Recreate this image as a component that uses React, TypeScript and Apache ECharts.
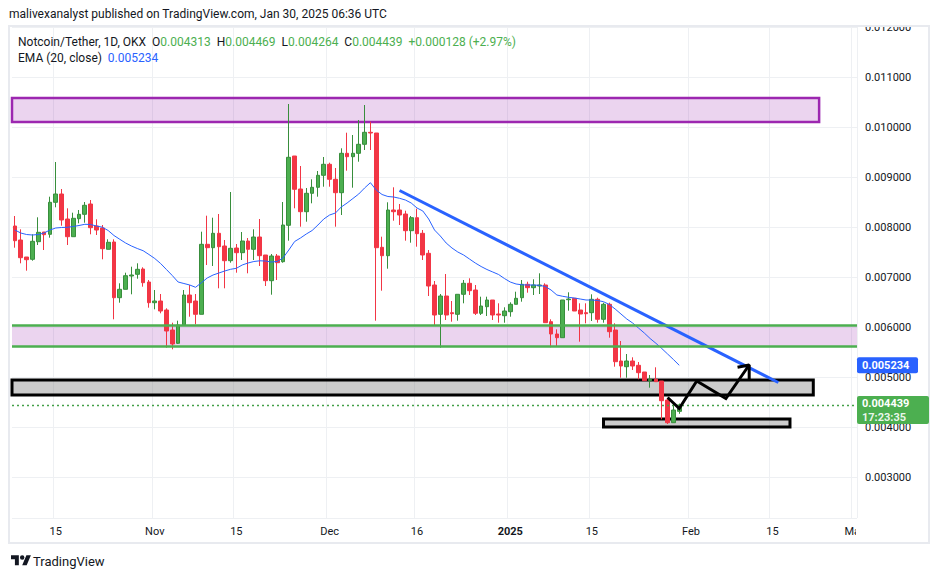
import React, { useEffect, useRef } from "react";
import * as echarts from "echarts";

const FONT = "Roboto, 'Liberation Sans', sans-serif";

// ---------- data (Notcoin/Tether, 1D, OKX) ----------
const firstDay = "2024-10-08";
const lastAxisDay = "2025-03-01";

const opens = [
  0.00802, 0.00774, 0.0074, 0.007354, 0.007706, 0.0079, 0.007854, 0.008494, 0.00866, 0.00816,
  0.007806, 0.008166, 0.008254, 0.00846, 0.00802, 0.00798, 0.007554, 0.0077, 0.006586, 0.006754,
  0.00702, 0.007054, 0.00716, 0.0069, 0.006486, 0.00652, 0.00634, 0.00594, 0.005674, 0.00604,
  0.00664, 0.00652, 0.006254, 0.007654, 0.007586, 0.007874, 0.00762, 0.007326, 0.00758, 0.007486,
  0.00772, 0.007554, 0.0078, 0.00744, 0.006926, 0.00742, 0.007306, 0.008034, 0.00942, 0.00876,
  0.008306, 0.008674, 0.008794, 0.009034, 0.009254, 0.008954, 0.008686, 0.009474, 0.009406, 0.009474,
  0.009654, 0.009894, 0.00988, 0.007594, 0.007426, 0.00834, 0.00834, 0.00826, 0.007926, 0.008186,
  0.007874, 0.007474, 0.00684, 0.006254, 0.00662, 0.006286, 0.006254, 0.006654, 0.006874, 0.00674,
  0.006274, 0.006406, 0.00654, 0.00626, 0.006226, 0.006306, 0.006454, 0.006586, 0.006854, 0.006786,
  0.00682, 0.00684, 0.006106, 0.00586, 0.005786, 0.006546, 0.006574, 0.00634, 0.006286, 0.006286,
  0.006554, 0.006154, 0.006454, 0.00594, 0.00532, 0.005206, 0.00532, 0.005234, 0.0051, 0.004926,
  0.004954, 0.00492, 0.00454, 0.004086, 0.004313,
];
const closes = [
  0.007726, 0.007386, 0.007346, 0.007714, 0.007894, 0.007846, 0.008494, 0.00866, 0.00814, 0.007806,
  0.008174, 0.008254, 0.008434, 0.007986, 0.00794, 0.007566, 0.007694, 0.006586, 0.006754, 0.007026,
  0.00704, 0.007154, 0.006886, 0.006486, 0.00652, 0.00632, 0.00592, 0.00566, 0.00604, 0.00664,
  0.006486, 0.006254, 0.007654, 0.007586, 0.007874, 0.007606, 0.007326, 0.007574, 0.007486, 0.00772,
  0.007554, 0.0078, 0.007426, 0.006926, 0.00742, 0.007286, 0.00804, 0.009394, 0.008754, 0.008306,
  0.008674, 0.008794, 0.009034, 0.009254, 0.008954, 0.008686, 0.009474, 0.009406, 0.009474, 0.009654,
  0.009894, 0.00988, 0.007586, 0.007426, 0.00834, 0.008306, 0.00824, 0.007926, 0.008186, 0.007866,
  0.00744, 0.00682, 0.00624, 0.00662, 0.00624, 0.006266, 0.006654, 0.006874, 0.006726, 0.006274,
  0.00642, 0.00654, 0.00624, 0.00624, 0.00632, 0.006454, 0.006574, 0.006854, 0.006786, 0.00684,
  0.00684, 0.006086, 0.00586, 0.005786, 0.00654, 0.00656, 0.00632, 0.00626, 0.006266, 0.006554,
  0.006154, 0.006454, 0.005906, 0.005306, 0.00522, 0.00532, 0.00522, 0.005086, 0.004926, 0.004954,
  0.004906, 0.004526, 0.004086, 0.00434, 0.004439,
];
const lows = [
  0.007586, 0.007274, 0.007126, 0.007326, 0.00764, 0.00754, 0.007786, 0.008394, 0.008026, 0.00764,
  0.007806, 0.008074, 0.008086, 0.007854, 0.00784, 0.007354, 0.007554, 0.006154, 0.006486, 0.006754,
  0.006654, 0.006966, 0.006806, 0.006386, 0.006354, 0.006274, 0.005586, 0.005554, 0.00566, 0.006026,
  0.006206, 0.006054, 0.006254, 0.00724, 0.00722, 0.006774, 0.006774, 0.007286, 0.007086, 0.00734,
  0.007074, 0.00734, 0.00722, 0.00682, 0.006646, 0.00694, 0.007286, 0.007726, 0.008374, 0.008006,
  0.008106, 0.008474, 0.008606, 0.008806, 0.008806, 0.008006, 0.00824, 0.009126, 0.008786, 0.009306,
  0.00954, 0.00954, 0.006126, 0.006726, 0.007166, 0.008126, 0.00804, 0.007726, 0.007686, 0.007606,
  0.00734, 0.00662, 0.006026, 0.005586, 0.00614, 0.006106, 0.006126, 0.006474, 0.00664, 0.00624,
  0.00624, 0.00622, 0.00614, 0.006086, 0.006086, 0.006206, 0.006454, 0.006506, 0.006686, 0.00664,
  0.00666, 0.006086, 0.005594, 0.00562, 0.005786, 0.006326, 0.00632, 0.005706, 0.006074, 0.00612,
  0.006086, 0.006086, 0.005786, 0.005206, 0.004986, 0.004986, 0.00514, 0.004954, 0.004926, 0.004786,
  0.004906, 0.004154, 0.00406, 0.004086, 0.004264,
];
const highs = [
  0.00822, 0.007954, 0.0074, 0.007854, 0.008194, 0.0079, 0.008606, 0.0093, 0.00876, 0.008374,
  0.008286, 0.00834, 0.0085, 0.00854, 0.008154, 0.00804, 0.007754, 0.007754, 0.006874, 0.007086,
  0.007206, 0.007274, 0.007194, 0.00694, 0.00674, 0.00666, 0.006374, 0.006086, 0.006126, 0.00674,
  0.00684, 0.00666, 0.007906, 0.008226, 0.008186, 0.00826, 0.00774, 0.0087, 0.00766, 0.0079,
  0.00778, 0.007954, 0.00816, 0.00744, 0.00746, 0.00746, 0.0085, 0.01046, 0.00942, 0.00922,
  0.00878, 0.008954, 0.00912, 0.0094, 0.009286, 0.00918, 0.009574, 0.009886, 0.00984, 0.01014,
  0.01044, 0.010106, 0.00988, 0.007806, 0.008494, 0.008794, 0.00846, 0.008326, 0.00822, 0.008366,
  0.00794, 0.00754, 0.00692, 0.00666, 0.00706, 0.00652, 0.006654, 0.00694, 0.006974, 0.00684,
  0.006606, 0.006606, 0.00654, 0.006474, 0.006394, 0.006494, 0.006706, 0.00694, 0.006906, 0.006954,
  0.007074, 0.006874, 0.006154, 0.005954, 0.00654, 0.006694, 0.006574, 0.006474, 0.006474, 0.006654,
  0.006586, 0.006486, 0.006486, 0.006074, 0.00572, 0.00546, 0.005394, 0.0053, 0.0051, 0.00504,
  0.005194, 0.00492, 0.004574, 0.004474, 0.004469,
];
const ema20 = [
  0.00794, 0.00788, 0.00785, 0.00784, 0.00785, 0.00788, 0.00794, 0.00798, 0.00799, 0.007994,
  0.00801, 0.00803, 0.008054, 0.00805, 0.00802, 0.007996, 0.00793, 0.00783, 0.007754, 0.00768,
  0.00762, 0.00757, 0.007526, 0.00745, 0.00737, 0.00727, 0.00715, 0.00703, 0.0069, 0.00687,
  0.00684, 0.006794, 0.006886, 0.00698, 0.00704, 0.00708, 0.00712, 0.007154, 0.007174, 0.00724,
  0.00728, 0.00731, 0.007324, 0.00732, 0.0073, 0.00731, 0.00738, 0.00754, 0.00771, 0.00778,
  0.00786, 0.00793, 0.00804, 0.00816, 0.00824, 0.00828, 0.0084, 0.00848, 0.00857, 0.00866,
  0.00878, 0.008886, 0.00874, 0.00865, 0.00861, 0.0086, 0.008574, 0.00854, 0.00848, 0.00838,
  0.00832, 0.00816, 0.00794, 0.00782, 0.00768, 0.00758, 0.0075, 0.00744, 0.00736, 0.00728,
  0.00721, 0.00715, 0.0071, 0.00705, 0.00697, 0.0069, 0.00686, 0.006844, 0.00684, 0.00684,
  0.006834, 0.00681, 0.00674, 0.00664, 0.006614, 0.006594, 0.00658, 0.00656, 0.00654, 0.00654,
  0.00653, 0.006506, 0.00645, 0.00636, 0.00626, 0.00616, 0.00608, 0.00598, 0.00588, 0.00577,
  0.005674, 0.00557, 0.00546, 0.00535, 0.005234,
];

const tickDates = ["2024-10-15", "2024-11-01", "2024-11-15", "2024-12-01", "2024-12-16", "2025-01-01", "2025-01-15", "2025-02-01", "2025-02-15", "2025-03-01"];
const tickLabels = ["15", "Nov", "15", "Dec", "16", "2025", "15", "Feb", "15", "Mar"];

const lastClose = 0.004439;
const lastEma = 0.005234;
const countdown = "17:23:35";

// drawn zones (price bounds) and drawings
const resistanceZone = [0.0101, 0.01058];
const resistanceEnd = "2025-02-23";
const supportZone = [0.00562, 0.00604];
const pivotZone = [0.00464, 0.00494];
const pivotEnd = "2025-02-22";
const baseZone = [0.004, 0.00416];
const baseStart = "2025-01-17";
const baseEnd = "2025-02-18";
const trendLine: [string, number][] = [["2024-12-13", 0.00873], ["2025-02-16", 0.00489]];
const projection: [string, number][] = [
  ["2025-01-28", 0.00459], ["2025-01-30", 0.00437], ["2025-02-02", 0.00492], ["2025-02-07", 0.00457], ["2025-02-11", 0.00524],
];
const arrowHead: [string, number][] = [["2025-02-09", 0.005194], ["2025-02-11", 0.00524], ["2025-02-11", 0.00495]];

// ---------- helpers ----------
function buildDays(start: string, end: string): string[] {
  const out: string[] = [];
  const t0 = Date.parse(start + "T00:00:00Z");
  const t1 = Date.parse(end + "T00:00:00Z");
  for (let t = t0; t <= t1; t += 86400000) out.push(new Date(t).toISOString().slice(0, 10));
  return out;
}
const axisDays = buildDays(firstDay, lastAxisDay);
const candles = opens.map((o, i) => [o, closes[i], lows[i], highs[i]]);

echarts.graphic.registerShape(
  "tvlogo",
  echarts.graphic.extendPath("M14 22H7V11H0V4h14v18zM28 22h-8l7.5-18h8L28 22zM24 8a4 4 0 1 1-8 0a4 4 0 1 1 8 0z", {})
);

const GRID_LEFT = 12;
const GRID_TOP = 27;
const GRID_W = 845;
const GRID_H = 491;
const TEXT = "#131722";
const UP = "#4caf50";

export default function App() {
  const ref = useRef<HTMLDivElement>(null);
  useEffect(() => {
    const el = ref.current;
    if (!el) return;
    const chart = echarts.init(el, null, { renderer: "svg" });
    const isTick = (_i: number, v: string) => tickDates.indexOf(v) >= 0;
    const zoneStyle = (fill: string, stroke: string, w: number) => ({ color: fill, borderColor: stroke, borderWidth: w });

    chart.setOption({
      animation: false,
      backgroundColor: "#ffffff",
      textStyle: { fontFamily: FONT },
      grid: { left: GRID_LEFT, top: GRID_TOP, width: GRID_W, height: GRID_H, containLabel: false, outerBoundsMode: "none" },
      xAxis: {
        type: "category",
        data: axisDays,
        boundaryGap: true,
        axisLine: { show: false },
        axisTick: { show: false },
        axisLabel: {
          interval: isTick,
          color: TEXT,
          fontSize: 11,
          fontFamily: FONT,
          margin: 8,
          formatter: (v: string) => {
            const t = tickLabels[tickDates.indexOf(v)] || "";
            return t === "2025" ? "{y|" + t + "}" : t;
          },
          rich: { y: { fontWeight: "bold", color: TEXT, fontSize: 11, fontFamily: FONT } },
        },
        splitLine: { show: true, interval: isTick, lineStyle: { color: "#eef0f3", width: 1 } },
      },
      yAxis: {
        type: "value",
        position: "right",
        min: 0.00218,
        max: 0.012,
        splitNumber: 10,
        axisLine: { show: false },
        axisTick: { show: false },
        axisLabel: {
          color: TEXT,
          fontSize: 11,
          fontFamily: FONT,
          margin: 8,
          showMinLabel: false,
          formatter: (v: number) => (Math.abs(v * 1000 - Math.round(v * 1000)) < 1e-6 ? v.toFixed(6) : ""),
        },
        splitLine: { lineStyle: { color: "#eef0f3", width: 1 } },
      },
      series: [
        {
          type: "candlestick",
          name: "Notcoin/Tether",
          data: candles,
          barWidth: "72%",
          itemStyle: { color: UP, color0: "#f23645", borderColor: "#388e3c", borderColor0: "#f23645", borderWidth: 1 },
          markArea: {
            silent: true,
            label: { show: false },
            data: [
              [{ yAxis: resistanceZone[1], itemStyle: zoneStyle("rgba(156,39,176,0.2)", "#9c27b0", 2.5) }, { xAxis: resistanceEnd, yAxis: resistanceZone[0] }],
              [{ yAxis: supportZone[1], itemStyle: zoneStyle("rgba(156,39,176,0.2)", "rgba(0,0,0,0)", 0) }, { yAxis: supportZone[0] }],
              [{ yAxis: pivotZone[1], itemStyle: zoneStyle("rgba(128,128,128,0.4)", "#000000", 3) }, { xAxis: pivotEnd, yAxis: pivotZone[0] }],
              [{ xAxis: baseStart, yAxis: baseZone[1], itemStyle: zoneStyle("rgba(128,128,128,0.4)", "#000000", 3) }, { xAxis: baseEnd, yAxis: baseZone[0] }],
            ],
          },
          markLine: {
            silent: true,
            precision: 6,
            symbol: ["none", "none"],
            label: { show: false },
            data: [
              [{ coord: trendLine[0], lineStyle: { color: "#2962ff", width: 3, type: "solid" } }, { coord: trendLine[1] }],
            ],
          },
        },
        {
          type: "line",
          name: "EMA (20, close)",
          data: ema20,
          symbol: "none",
          showSymbol: false,
          silent: true,
          z: 3,
          lineStyle: { color: "#2962ff", width: 1 },
          markLine: {
            silent: true,
            precision: 6,
            symbol: ["none", "none"],
            label: { show: false },
            data: [
              { yAxis: supportZone[1], lineStyle: { color: UP, width: 2.5, type: "solid" } },
              { yAxis: supportZone[0], lineStyle: { color: UP, width: 2.5, type: "solid" } },
              { yAxis: lastClose, lineStyle: { color: "#43a047", width: 1.3, type: [2, 3] } },
            ],
          },
        },
        {
          type: "line",
          name: "projection",
          data: projection,
          symbol: "none",
          silent: true,
          z: 6,
          lineStyle: { color: "#000000", width: 3, join: "miter" },
        },
        {
          type: "line",
          name: "arrow",
          data: arrowHead,
          symbol: "none",
          silent: true,
          z: 6,
          lineStyle: { color: "#000000", width: 3 },
        },
      ],
    });

    const yC = chart.convertToPixel({ yAxisIndex: 0 }, lastClose) as number;
    const yE = chart.convertToPixel({ yAxisIndex: 0 }, lastEma) as number;
    const xR = GRID_LEFT + GRID_W;

    chart.setOption({
      graphic: [
        { type: "rect", z: 100, shape: { x: xR, y: 0, width: 80, height: 25 }, style: { fill: "#ffffff" } },
        { type: "rect", z: 100, shape: { x: xR - 1, y: 520, width: 80, height: 22 }, style: { fill: "#ffffff" } },
        { type: "rect", z: 101, shape: { x: 9, y: 26, width: 920, height: 517 }, style: { fill: "none", stroke: "#e8eaef", lineWidth: 2 } },
        {
          type: "text", z: 102, x: 9, y: 14,
          style: { text: "malivexanalyst published on TradingView.com, Jan 30, 2025 06:36 UTC", fill: TEXT, font: "12px " + FONT, verticalAlign: "middle" },
        },
        {
          type: "text", z: 102, x: 18, y: 42,
          style: {
            text: "{n|Notcoin/Tether, 1D, OKX}  {n|O}{g|0.004313}  {n|H}{g|0.004469}  {n|L}{g|0.004264}  {n|C}{g|0.004439}  {g|+0.000128 (+2.97%)}",
            verticalAlign: "middle",
            font: "12px " + FONT,
            rich: {
              n: { fill: TEXT, font: "12px " + FONT },
              g: { fill: UP, font: "12px " + FONT },
            },
          },
        },
        {
          type: "text", z: 102, x: 18, y: 58,
          style: {
            text: "{n|EMA (20, close)}  {b|0.005234}",
            verticalAlign: "middle",
            font: "12px " + FONT,
            rich: {
              n: { fill: TEXT, font: "12px " + FONT },
              b: { fill: "#2962ff", font: "12px " + FONT },
            },
          },
        },
        { type: "rect", z: 110, shape: { x: xR, y: yE - 8, width: 61, height: 16, r: 2 }, style: { fill: "#2962ff" } },
        { type: "text", z: 111, x: xR + 5, y: yE, style: { text: lastEma.toFixed(6), fill: "#ffffff", font: "bold 11px " + FONT, verticalAlign: "middle" } },
        { type: "rect", z: 110, shape: { x: xR, y: yC - 9, width: 72, height: 28, r: 2 }, style: { fill: UP } },
        { type: "text", z: 111, x: xR + 5, y: yC - 2, style: { text: lastClose.toFixed(6), fill: "#ffffff", font: "bold 11px " + FONT, verticalAlign: "middle" } },
        { type: "text", z: 111, x: xR + 5, y: yC + 12, style: { text: countdown, fill: "rgba(255,255,255,0.9)", font: "bold 11px " + FONT, verticalAlign: "middle" } },
        { type: "tvlogo", z: 102, x: 11, y: 553, scaleX: 0.56, scaleY: 0.56, style: { fill: TEXT } },
        { type: "text", z: 102, x: 33, y: 561, style: { text: "TradingView", fill: TEXT, font: "13px " + FONT, verticalAlign: "middle" } },
      ],
    });

    return () => chart.dispose();
  }, []);
  return <div ref={ref} style={{ position: "fixed", left: 0, top: 0, width: 939, height: 579, background: "#ffffff" }} />;
}
